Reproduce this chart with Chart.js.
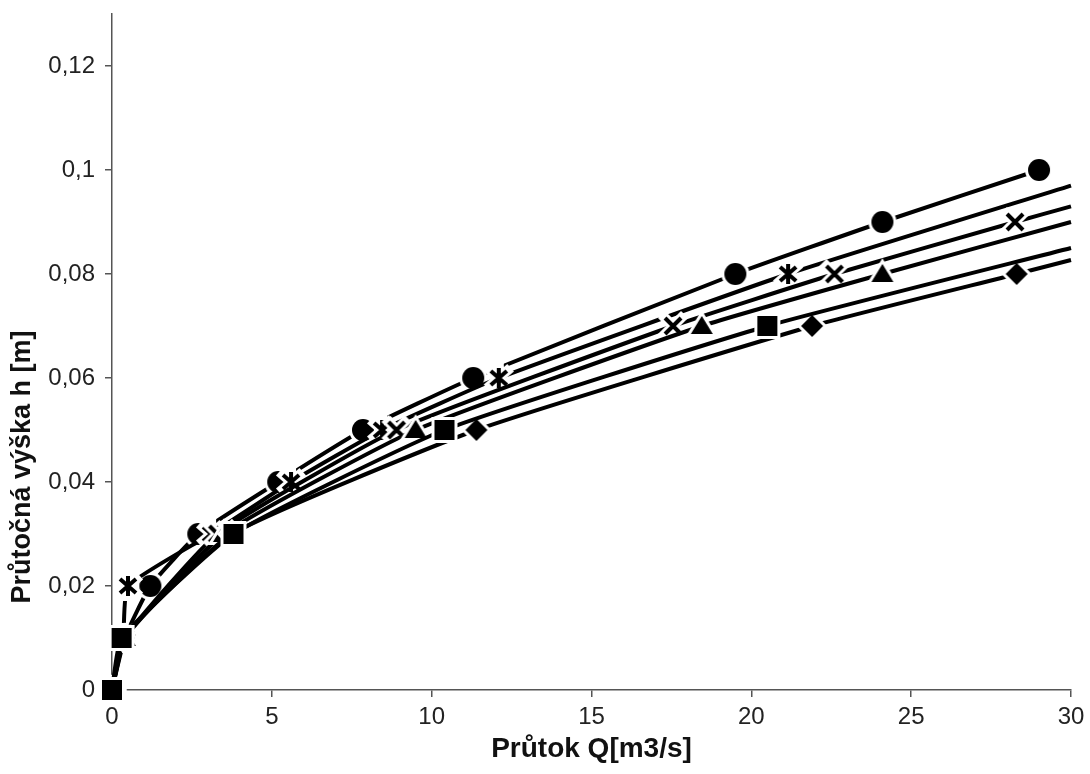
<!DOCTYPE html>
<html>
<head>
<meta charset="utf-8">
<script src="https://cdn.jsdelivr.net/npm/chart.js@4/dist/chart.umd.min.js"></script>
<style>
  html, body { margin: 0; padding: 0; background: #fff; }
  #wrap { width: 1090px; height: 774px; }
</style>
</head>
<body>
<div id="wrap"><canvas id="canvGraph"></canvas></div>
<script>
// prutok Q [m3/s] a prutocna vyska h [m] pro jednotlive rady
var circleQ   = [0, 0.4, 1.2, 2.7, 5.2, 7.85, 11.3, 19.5, 24.1, 29.0];
var circleH   = [0, 0.01, 0.02, 0.03, 0.04, 0.05, 0.06, 0.08, 0.09, 0.10];

var starQ     = [0, 0.35, 0.5, 3.1, 5.6, 8.45, 12.1, 21.15, 30];
var starH     = [0, 0.01, 0.02, 0.03, 0.04, 0.05, 0.06, 0.08, 0.097];

var crossQ    = [0, 0.4, 3.3, 8.9, 17.55, 22.6, 28.25, 30];
var crossH    = [0, 0.01, 0.03, 0.05, 0.07, 0.08, 0.09, 0.093];

var triangleQ = [0, 0.4, 3.5, 9.5, 18.45, 24.1, 30];
var triangleH = [0, 0.01, 0.03, 0.05, 0.07, 0.08, 0.090];

var squareQ   = [0, 0.3, 3.8, 10.4, 20.5, 30];
var squareH   = [0, 0.01, 0.03, 0.05, 0.07, 0.085];

var diamondQ  = [0, 0.35, 3.75, 11.4, 21.9, 28.3, 30];
var diamondH  = [0, 0.01, 0.03, 0.05, 0.07, 0.08, 0.0827];

var xTicks = [0, 5, 10, 15, 20, 25, 30];
var yTicks = [0, 0.02, 0.04, 0.06, 0.08, 0.1, 0.12];

var xTitle = 'Průtok Q[m3/s]';
var yTitle = 'Průtočná výška h [m]';

var _chart;

function toPoints(q, h) {
    var pts = [];
    for (var i = 0; i < q.length; i++) {
        pts.push({x: q[i], y: h[i]});
    }
    return pts;
}

function makeMarker(type) {
    var c = document.createElement('canvas');
    c.width = 34;
    c.height = 34;
    var ctx = c.getContext('2d');
    ctx.translate(17, 17);
    ctx.lineJoin = 'miter';

    function shape() {
        ctx.beginPath();
        if (type === 'circle') {
            ctx.arc(0, 0, 11, 0, Math.PI * 2);
        } else if (type === 'square') {
            ctx.rect(-10, -10, 20, 20);
        } else if (type === 'triangle') {
            ctx.moveTo(0, -10);
            ctx.lineTo(11, 8);
            ctx.lineTo(-11, 8);
            ctx.closePath();
        } else if (type === 'diamond') {
            ctx.moveTo(0, -11);
            ctx.lineTo(11, 0);
            ctx.lineTo(0, 11);
            ctx.lineTo(-11, 0);
            ctx.closePath();
        } else if (type === 'cross') {
            ctx.moveTo(-8, -8); ctx.lineTo(8, 8);
            ctx.moveTo(8, -8); ctx.lineTo(-8, 8);
        } else if (type === 'star') {
            ctx.moveTo(-8, -7); ctx.lineTo(8, 7);
            ctx.moveTo(8, -7); ctx.lineTo(-8, 7);
            ctx.moveTo(0, -10); ctx.lineTo(0, 10);
        }
    }

    shape();
    ctx.strokeStyle = '#fff';
    if (type === 'cross' || type === 'star') {
        ctx.lineWidth = 10;
        ctx.lineCap = 'square';
        ctx.stroke();
        shape();
        ctx.strokeStyle = '#000';
        ctx.lineWidth = 4;
        ctx.lineCap = 'butt';
        ctx.stroke();
    } else {
        ctx.lineWidth = 6;
        ctx.stroke();
        shape();
        ctx.fillStyle = '#000';
        ctx.fill();
    }
    return c;
}

function buildDataset(q, h, type, order) {
    var img = makeMarker(type);
    return {
        data: toPoints(q, h),
        order: order,
        clip: false,
        borderColor: '#000',
        borderWidth: 4,
        fill: false,
        tension: 0.15,
        pointStyle: function (ctx) {
            // konec cary na okraji grafu je bez znacky
            return (ctx.raw && ctx.raw.x >= 30) ? false : img;
        },
        pointRadius: 10,
        pointHoverRadius: 10
    };
}

var yTitlePlugin = {
    id: 'yTitlePlugin',
    afterDraw: function (chart) {
        var ctx = chart.ctx;
        ctx.save();
        ctx.translate(23, 467);
        ctx.rotate(-Math.PI / 2);
        ctx.font = 'bold 27px "Liberation Sans", Arial, sans-serif';
        ctx.fillStyle = '#111';
        ctx.textAlign = 'center';
        ctx.textBaseline = 'middle';
        ctx.fillText(yTitle, 0, 0);
        ctx.restore();
    }
};

function noEdgePadding(scale) {
    scale.paddingTop = 0;
    scale.paddingBottom = 0;
    scale.paddingLeft = 0;
    scale.paddingRight = 0;
}

function buildChart() {
    var ctxMix = document.getElementById('canvGraph').getContext('2d');

    var datasets = [
        buildDataset(circleQ, circleH, 'circle', 6),
        buildDataset(starQ, starH, 'star', 5),
        buildDataset(crossQ, crossH, 'cross', 4),
        buildDataset(triangleQ, triangleH, 'triangle', 3),
        buildDataset(squareQ, squareH, 'square', 1),
        buildDataset(diamondQ, diamondH, 'diamond', 2)
    ];

    var tickFont = {family: '"Liberation Sans", Arial, sans-serif', size: 24};

    _chart = new Chart(ctxMix, {
        type: 'line',
        data: {datasets: datasets},
        plugins: [yTitlePlugin],
        options: {
            responsive: false,
            animation: false,
            layout: {padding: {top: 12, right: 19, left: 0, bottom: 0}},
            plugins: {
                legend: {display: false},
                tooltip: {enabled: false}
            },
            scales: {
                x: {
                    type: 'linear',
                    min: 0,
                    max: 30,
                    afterBuildTicks: function (scale) {
                        scale.ticks = xTicks.map(function (v) { return {value: v}; });
                    },
                    afterFit: function (scale) {
                        scale.height = 84;
                        noEdgePadding(scale);
                    },
                    ticks: {
                        font: tickFont,
                        color: '#222',
                        padding: 6,
                        maxRotation: 0,
                        callback: function (v) { return String(v); }
                    },
                    grid: {drawOnChartArea: false, tickLength: 7, color: '#555', lineWidth: 1.5},
                    border: {color: '#555', width: 1.5},
                    title: {
                        display: true,
                        text: xTitle,
                        color: '#111',
                        font: {family: '"Liberation Sans", Arial, sans-serif', size: 28, weight: 'bold'},
                        padding: {top: 0, bottom: 8}
                    }
                },
                y: {
                    type: 'linear',
                    min: 0,
                    max: 0.13,
                    afterBuildTicks: function (scale) {
                        scale.ticks = yTicks.map(function (v) { return {value: v}; });
                    },
                    afterFit: function (scale) {
                        scale.width = 112;
                        noEdgePadding(scale);
                    },
                    ticks: {
                        font: tickFont,
                        color: '#222',
                        padding: 10,
                        callback: function (v) { return String(Math.round(v * 100) / 100).replace('.', ','); }
                    },
                    grid: {drawOnChartArea: false, tickLength: 7, color: '#555', lineWidth: 1.5},
                    border: {color: '#555', width: 1.5}
                }
            }
        }
    });
}

var canv = document.getElementById('canvGraph');
canv.width = 1090;
canv.height = 774;
canv.style.width = '1090px';
canv.style.height = '774px';
buildChart();
</script>
</body>
</html>
